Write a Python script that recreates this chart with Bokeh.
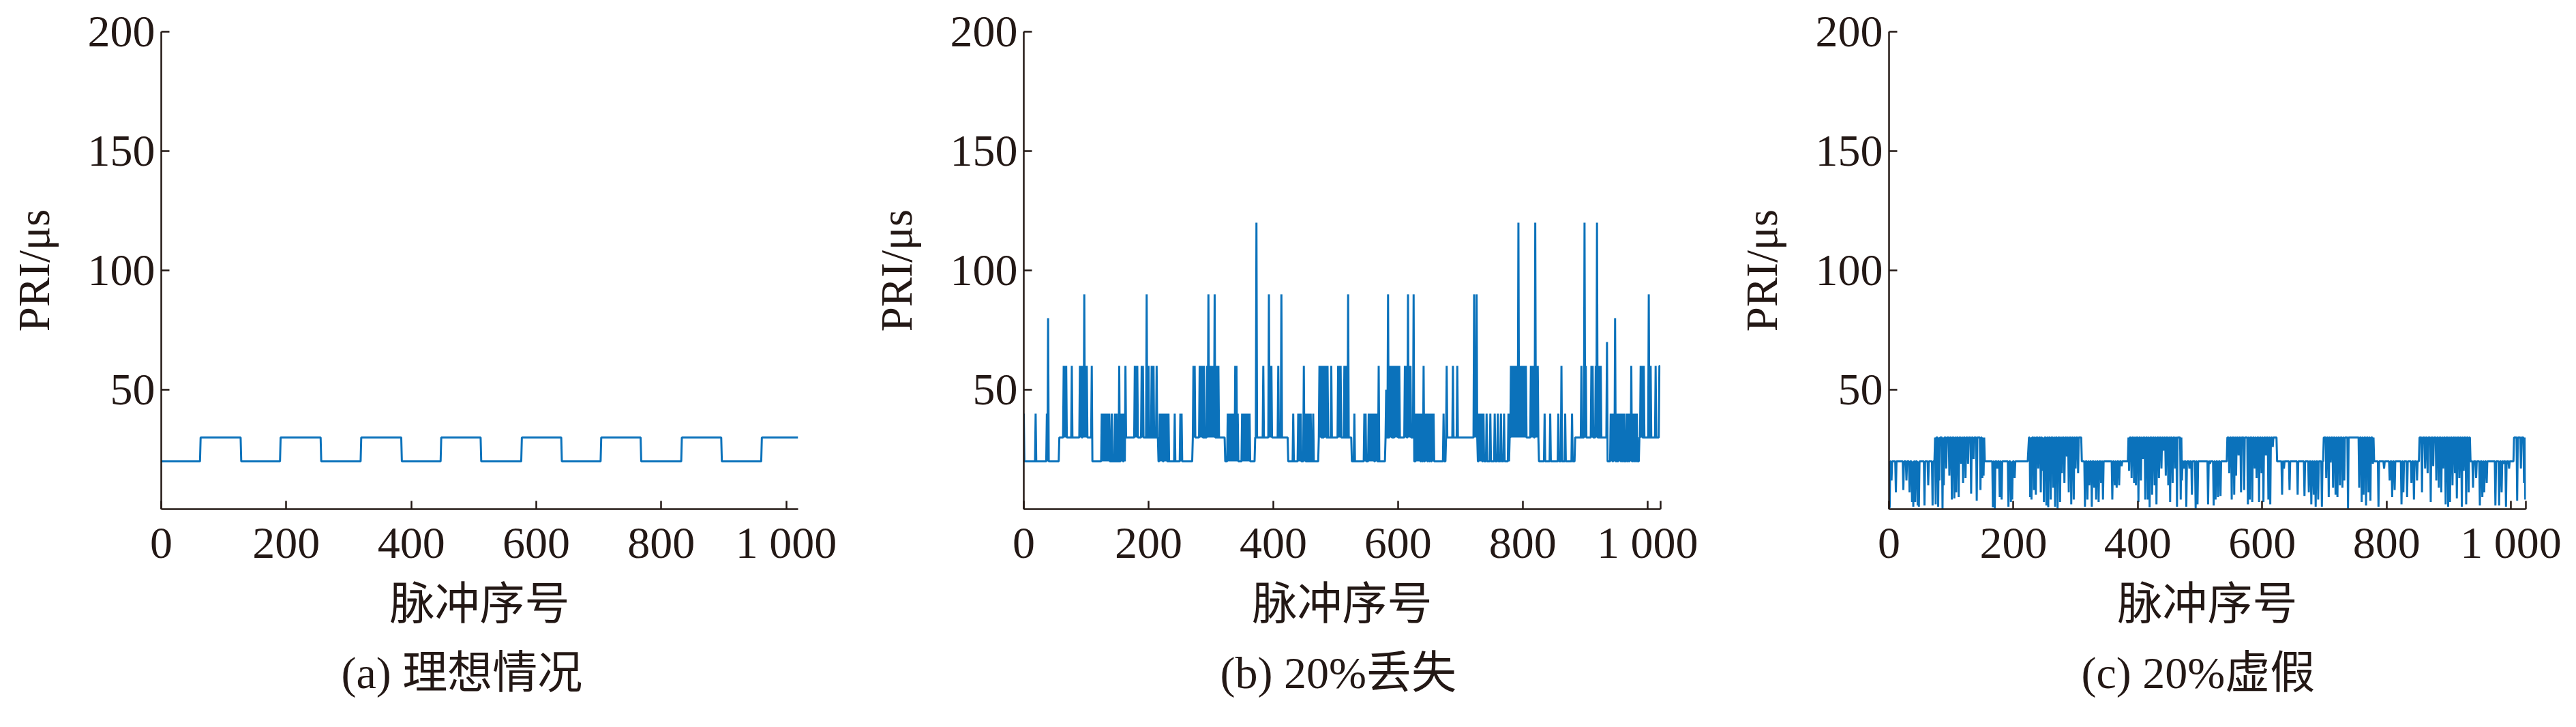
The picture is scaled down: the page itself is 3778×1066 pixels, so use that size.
from bokeh.plotting import figure
from bokeh.models import FixedTicker, Title
from bokeh.layouts import row
from bokeh.embed import file_html
from bokeh.resources import INLINE

# ---------------- data ----------------
# x: pulse index ; y: PRI in microseconds
x_ticks = [0, 200, 400, 600, 800, 1000]
x_tick_labels = {1000: "1 000"}
y_ticks = [50, 100, 150, 200]

# (a) ideal: square wave 20/30 us
a_edges = [0, 63, 128, 191, 256, 320, 385, 448, 512, 577, 641, 704, 768, 833, 897, 961, 1020]
a_levels = [20, 30, 20, 30, 20, 30, 20, 30, 20, 30, 20, 30, 20, 30, 20, 30]

# (b) 20% missing pulses: base levels + merged-interval spikes
b_edges = [0, 57, 110, 164, 216, 271, 323, 371, 424, 473, 526, 580, 626, 677, 728, 779, 826, 884, 935, 987, 1021]
b_levels = [20, 30, 20, 30, 20, 30, 20, 30, 20, 30, 20, 30, 20, 30, 20, 30, 20, 30, 20, 30]
b_spike_idx = [
    0, 19, 37, 39,
    64, 66, 68, 77, 90, 92, 95, 97, 99, 101, 109,
    125, 127, 129, 131, 133, 135, 137, 141, 146, 149, 153, 156, 158, 161, 163,
    178, 180, 182, 189, 191, 197, 200, 205, 208, 213,
    218, 220, 222, 225, 227, 229, 232, 242, 251, 253,
    272, 274, 282, 284, 286, 289, 294, 296, 298, 300, 302, 304, 306, 309, 312,
    327, 329, 331, 333, 335, 337, 339, 341, 343, 350, 352, 354, 356, 358, 360, 362,
    373, 384, 393, 395, 397, 408, 413,
    432, 440, 442, 444, 449, 451, 454, 457, 460, 464,
    474, 476, 479, 482, 484, 487, 493, 504, 506, 508, 514, 517, 520,
    530, 546, 548, 553, 555, 557, 559, 561, 564, 566, 569,
    581, 584, 587, 589, 592, 595, 597, 599, 602, 611, 613, 616, 618, 620, 625,
    629, 631, 633, 635, 638, 641, 644, 646, 649, 652, 655, 657, 673,
    678, 688, 695, 722, 724, 726,
    730, 732, 734, 737, 742, 748, 755, 760, 765, 770, 777,
    781, 783, 785, 787, 789, 791, 793, 795, 797, 799, 801, 803, 805, 813, 815, 817, 820, 822, 824,
    835, 844, 857, 862, 868, 879,
    894, 899, 901, 910, 912, 917, 919, 922, 925,
    935, 941, 943, 946, 948, 951, 954, 956, 959, 962, 966, 969, 972, 974, 977, 980, 983,
    989, 991, 994, 1002, 1005, 1013, 1019, 1020,
]
b_spike_val = [
    40, 40, 40, 80,
    60, 60, 60, 60, 60, 60, 60, 90, 60, 60, 60,
    40, 40, 40, 40, 40, 40, 40, 40, 40, 40, 60, 40, 40, 40, 60,
    60, 60, 60, 60, 60, 90, 60, 60, 60, 60,
    40, 40, 40, 40, 40, 40, 40, 40, 40, 40,
    60, 60, 60, 60, 60, 60, 60, 90, 60, 60, 60, 60, 90, 60, 60,
    40, 40, 40, 40, 40, 40, 60, 60, 40, 40, 40, 40, 40, 40, 40, 40,
    120, 60, 90, 60, 60, 60, 90,
    40, 40, 40, 40, 60, 40, 40, 40, 40, 40,
    60, 60, 60, 60, 60, 60, 60, 60, 60, 60, 60, 60, 90,
    40, 40, 40, 40, 40, 40, 40, 40, 40, 40, 60,
    50, 90, 60, 60, 60, 60, 60, 60, 60, 60, 60, 90, 60, 60, 90,
    40, 40, 40, 40, 40, 60, 40, 40, 40, 40, 40, 40, 40,
    60, 60, 60, 90, 60, 90,
    40, 40, 40, 40, 40, 40, 40, 40, 40, 40, 40,
    60, 60, 60, 60, 60, 60, 120, 60, 60, 60, 60, 60, 60, 60, 60, 60, 120, 60, 60,
    40, 40, 40, 60, 40, 40,
    60, 120, 60, 60, 60, 60, 120, 60, 60,
    70, 40, 40, 40, 80, 40, 40, 40, 40, 40, 40, 40, 40, 60, 40, 40, 40,
    60, 60, 60, 90, 60, 60, 60, 60,
]

# (c) 20% false pulses: base levels + split-interval drops
c_edges = [0, 74, 154, 224, 310, 385, 472, 544, 624, 699, 780, 853, 935, 1005, 1024]
c_levels = [20, 30, 20, 30, 20, 30, 20, 30, 20, 30, 20, 30, 20, 30]
c_drop_idx = [
    1, 4, 11, 23, 28, 33, 37, 39, 42, 46, 48, 57, 63, 70,
    75, 79, 81, 86, 88, 92, 97, 101, 105, 108, 112, 116, 119, 123, 127, 132, 136, 141, 147, 150, 152,
    167, 170, 174, 178, 181, 192, 196, 198, 202,
    224, 227, 229, 233, 236, 240, 244, 247, 249, 253, 256, 260, 264, 267, 271, 275, 278, 282, 286, 289, 293, 297, 300, 304,
    315, 319, 322, 326, 330, 333, 337, 341, 344, 359, 363, 366, 370, 374,
    386, 390, 394, 397, 401, 405, 408, 412, 416, 419, 423, 427, 430, 434, 438, 441, 445, 449, 452, 456, 460, 463, 469, 471,
    474, 478, 483, 487, 493, 496, 513, 516, 522, 525, 529, 533,
    547, 551, 555, 558, 562, 566, 571, 577, 580, 584, 588, 591, 595, 599, 602, 606, 610, 613, 617,
    632, 635, 644, 657, 668, 675, 679, 683, 686, 690, 696,
    703, 707, 710, 714, 718, 721, 725, 729, 732, 738, 756, 760, 763, 767, 771, 774, 778,
    787, 796, 805, 809, 813, 824, 827, 833, 840, 844, 849,
    857, 862, 866, 871, 875, 880, 884, 888, 891, 895, 899, 902, 906, 910, 913, 917, 921, 924, 928, 932,
    939, 944, 950, 954, 957, 961, 975, 981, 985, 988, 992, 997,
    1010, 1016, 1021, 1023,
]
c_drop_val = [
    0.5, 12, 7, 8, 12, 7, 3, 1, 3, 1.5, 1, 1.5, 10, 1.5,
    2, 1, 12, 0, 10, 17, 14, 4, 4.5, 7, 5, 19, 11, 13, 19, 6.5, 21, 3.5, 8, 13, 14,
    0.7, 0.2, 17, 5, 4, 1, 3, 4, 13,
    25, 5, 4, 8, 6, 17, 7, 16, 3, 1.5, 0.7, 4, 9, 1, 0.2, 3, 15, 11, 22, 7, 2, 4, 17, 15,
    1, 4, 10, 1, 9, 4, 3, 11, 4, 4, 10, 9, 10, 18,
    16, 13, 11, 10, 3, 12, 21, 4, 4, 0.7, 6, 10, 2, 13, 17, 24.5, 14, 10, 3, 11, 17, 1, 4, 12,
    17, 1, 17, 6, 0.2, 2, 2, 19, 1.5, 4, 5, 5.5,
    15, 4, 6, 14, 22.5, 7, 8, 2, 4, 3, 17, 13, 3, 15, 3, 22.5, 4, 2, 26,
    6, 17, 8, 6, 5.5, 7, 2, 6, 1, 4, 1,
    13, 5, 19.5, 9, 6, 5, 10, 9, 12, 0.2, 9, 3, 6, 1.5, 7, 3.5, 19,
    1, 17, 12, 5, 8, 2, 7, 5, 11, 4, 12,
    7, 17, 15, 3, 18, 12, 9, 7, 17, 2, 1, 3, 10, 15, 4.5, 13, 1, 16, 2, 7,
    9, 13, 1.5, 5, 7, 11, 1.5, 1.5, 7, 19, 1, 17,
    3.5, 17, 11, 4,
]

captions = ["(a) 理想情况", "(b) 20%丢失", "(c) 20%虚假"]

# ---------------- styling ----------------
INK = "#231815"
BLUE = "#0b72bb"
SERIF = "Liberation Serif"
MIXED = "'Liberation Serif', 'Noto Sans CJK SC'"
FS = "66px"


def series(edges, levels, idx=None, val=None):
    ys = []
    for i, lv in enumerate(levels):
        ys += [lv] * (edges[i + 1] - edges[i])
    if idx is not None:
        for k, v in zip(idx, val):
            if 0 <= k < len(ys):
                ys[k] = v
    xs = list(range(len(ys)))
    return xs, ys


def panel(xs, ys, xend, left, caption, cap_offset, end_tick):
    W, H, FW = 1254, 1050, 934
    p = figure(width=W, height=H, x_range=(0, xend), y_range=(0, 200),
               output_backend="svg", toolbar_location=None,
               min_border_left=left, min_border_right=W - left - FW,
               min_border_top=46, min_border_bottom=H - 46 - 700)
    p.outline_line_color = None
    p.grid.visible = False
    p.line(xs, ys, line_color=BLUE, line_width=3)

    xa = p.xaxis[0]
    xa.ticker = FixedTicker(ticks=x_ticks, minor_ticks=[xend - 0.3] if end_tick else [])
    xa.major_label_overrides = x_tick_labels
    xa.axis_label = "脉冲序号"
    xa.axis_label_text_font = MIXED
    xa.axis_label_text_font_size = FS
    xa.axis_label_text_font_style = "normal"
    xa.axis_label_text_color = INK
    xa.axis_label_standoff = 14
    xa.major_label_text_font = SERIF
    xa.major_label_text_font_size = FS
    xa.major_label_text_color = INK
    xa.major_label_standoff = 12

    ya = p.yaxis[0]
    ya.ticker = FixedTicker(ticks=y_ticks, minor_ticks=[])
    ya.axis_label = "PRI/μs"
    ya.axis_label_text_font = SERIF
    ya.axis_label_text_font_size = "65px"
    ya.axis_label_text_font_style = "normal"
    ya.axis_label_text_color = INK
    ya.axis_label_standoff = 40
    ya.major_label_text_font = SERIF
    ya.major_label_text_font_size = FS
    ya.major_label_text_color = INK
    ya.major_label_standoff = 9

    for ax in (xa, ya):
        ax.axis_line_color = INK
        ax.axis_line_width = 2.5
        ax.major_tick_line_color = INK
        ax.major_tick_line_width = 2.5
        ax.major_tick_in = 12
        ax.major_tick_out = 0
        ax.minor_tick_line_color = INK
        ax.minor_tick_line_width = 2.5
        ax.minor_tick_in = 12
        ax.minor_tick_out = 0

    cap = Title(text=caption, align="left", offset=cap_offset, standoff=46,
                text_font=MIXED, text_font_size=FS, text_font_style="normal",
                text_color=INK)
    p.add_layout(cap, "below")
    return p


xa_, ya_ = series(a_edges, a_levels)
xb_, yb_ = series(b_edges, b_levels, b_spike_idx, b_spike_val)
xc_, yc_ = series(c_edges, c_levels, c_drop_idx, c_drop_val)

p1 = panel(xa_, ya_, 1019, 236, captions[0], 264, False)
p2 = panel(xb_, yb_, 1021, 247, captions[1], 288, True)
p3 = panel(xc_, yc_, 1024, 262, captions[2], 282, True)

layout = row(p1, p2, p3)
open("out.html", "w").write(file_html(layout, INLINE))
